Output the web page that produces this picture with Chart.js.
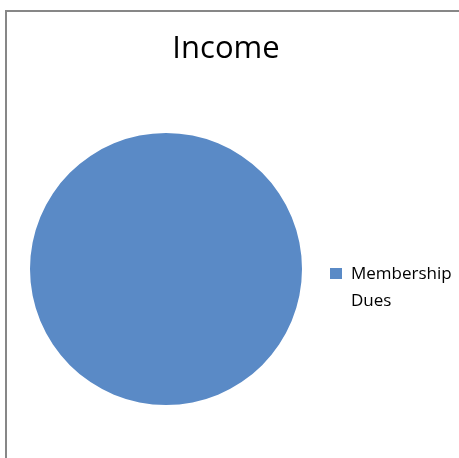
<!DOCTYPE html>
<html>
<head>
<meta charset="utf-8">
<script src="https://cdn.jsdelivr.net/npm/chart.js@4.4.0/dist/chart.umd.min.js"></script>
<style>
  html, body { margin: 0; padding: 0; background: #fff; overflow: hidden; }
  #wrap { position: relative; width: 459px; height: 458px; overflow: hidden; }
  #frame {
    position: absolute; left: 5px; top: 10px; width: 470px; height: 470px;
    border-left: 2px solid #878787; border-top: 2px solid #878787;
  }
  #incomeChart { position: absolute; left: -8px; top: 0; }
</style>
</head>
<body>
<div id="wrap">
  <div id="frame"></div>
  <canvas id="incomeChart" width="468" height="458"></canvas>
</div>
<script>
const chartTitle = "Income";
const categories = ["Membership Dues"];
const values = [100];
const sliceColors = ["#5a8ac6"];

// title sits over the whole frame, not over the pie, so draw it here
const frameTitle = {
  id: "frameTitle",
  afterDraw(chart) {
    const ctx = chart.ctx;
    ctx.save();
    ctx.font = "31px 'Open Sans'";
    ctx.fillStyle = "#000";
    ctx.textAlign = "center";
    ctx.textBaseline = "alphabetic";
    ctx.fillText(chartTitle, 234, 58);
    ctx.restore();
  }
};

// legend on the right, words wrap like the original
const sideLegend = {
  id: "sideLegend",
  afterDraw(chart) {
    const ctx = chart.ctx;
    const meta = chart.getDatasetMeta(0);
    let y = 279;
    ctx.save();
    ctx.font = "17px 'Open Sans'";
    ctx.textBaseline = "alphabetic";
    chart.data.labels.forEach((label, i) => {
      ctx.fillStyle = meta.data[i].options.backgroundColor;
      ctx.fillRect(338, y - 11, 12, 11);

      const words = label.split(" ");
      let line = "";
      const lines = [];
      words.forEach(w => {
        const test = line ? line + " " + w : w;
        if (line && ctx.measureText(test).width > 115) {
          lines.push(line);
          line = w;
        } else {
          line = test;
        }
      });
      if (line) lines.push(line);

      ctx.fillStyle = "#000";
      lines.forEach((l, k) => {
        ctx.fillText(l, 359, y + k * 27);
      });
      y += lines.length * 27 + 10;
    });
    ctx.restore();
  }
};

new Chart(document.getElementById("incomeChart"), {
  type: "pie",
  data: {
    labels: categories,
    datasets: [{
      data: values,
      backgroundColor: sliceColors,
      borderWidth: 0,
      hoverOffset: 0,
      offset: 0
    }]
  },
  options: {
    responsive: false,
    animation: false,
    layout: { padding: { left: 38, right: 158, top: 133, bottom: 53 } },
    plugins: {
      legend: { display: false },
      tooltip: { enabled: false },
      title: { display: false }
    }
  },
  plugins: [frameTitle, sideLegend]
});
</script>
</body>
</html>
